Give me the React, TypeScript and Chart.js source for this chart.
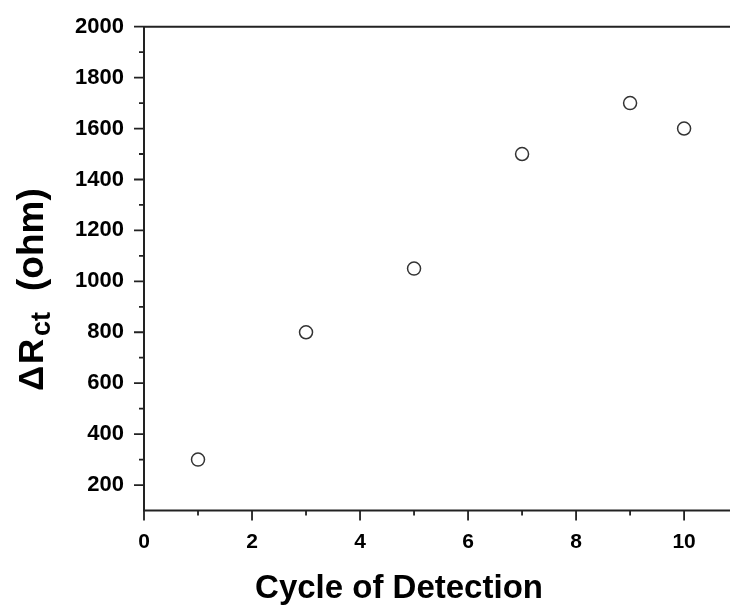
import React, { useEffect, useRef } from "react";
import { Chart, registerables } from "chart.js";

Chart.register(...registerables);

const cycles = [1, 3, 5, 7, 9, 10];
const deltaRct = [300, 800, 1050, 1500, 1700, 1600];
const xMajorTicks = [0, 2, 4, 6, 8, 10];
const yMajorTicks = [200, 400, 600, 800, 1000, 1200, 1400, 1600, 1800, 2000];

const FONT = '"Liberation Sans", Arial, sans-serif';
const AXIS_COLOR = "#222";

const framePlugin = {
  id: "frame",
  afterDraw(chart: any) {
    const { ctx, chartArea, scales } = chart;
    const xs = scales.x;
    const ys = scales.y;
    ctx.save();
    ctx.strokeStyle = AXIS_COLOR;
    ctx.lineWidth = 2;
    ctx.beginPath();
    ctx.moveTo(chartArea.left, chartArea.top);
    ctx.lineTo(chartArea.right, chartArea.top);
    ctx.moveTo(chartArea.left, chartArea.top);
    ctx.lineTo(chartArea.left, chartArea.bottom);
    ctx.lineTo(chartArea.right, chartArea.bottom);
    ctx.stroke();
    ctx.lineWidth = 1.8;
    ctx.beginPath();
    xs.ticks.forEach((t: any) => {
      const px = xs.getPixelForValue(t.value);
      const major = xMajorTicks.includes(t.value);
      const len = major ? 10 : 5;
      ctx.moveTo(px, chartArea.bottom);
      ctx.lineTo(px, chartArea.bottom + len);
    });
    ys.ticks.forEach((t: any) => {
      if (t.value <= ys.min) return;
      const py = ys.getPixelForValue(t.value);
      const major = yMajorTicks.includes(t.value);
      const len = major ? 10 : 5;
      ctx.moveTo(chartArea.left, py);
      ctx.lineTo(chartArea.left - len, py);
    });
    ctx.stroke();

    ctx.fillStyle = "#000";
    ctx.font = `bold 33px ${FONT}`;
    ctx.textAlign = "center";
    ctx.textBaseline = "alphabetic";
    ctx.fillText("Cycle of Detection", 399, 598);

    ctx.translate(43, 390);
    ctx.rotate(-Math.PI / 2);
    ctx.textAlign = "left";
    ctx.font = `bold 35px ${FONT}`;
    ctx.fillText("\u0394", -1, 0);
    ctx.fillText("R", 26, 0);
    ctx.font = `bold 27px ${FONT}`;
    ctx.fillText("ct", 54, 7);
    ctx.font = `bold 37px ${FONT}`;
    ctx.fillText("(ohm)", 99, 0);
    ctx.restore();
  },
};

export default function App() {
  const ref = useRef<HTMLCanvasElement | null>(null);
  useEffect(() => {
    if (!ref.current) return;
    const chart = new Chart(ref.current, {
      type: "scatter",
      data: {
        datasets: [
          {
            data: cycles.map((c, i) => ({ x: c, y: deltaRct[i] })),
            pointRadius: 6.5,
            pointHoverRadius: 6.5,
            pointBorderWidth: 1.5,
            borderColor: "#333",
            backgroundColor: "#fff",
            pointStyle: "circle",
          },
        ],
      },
      options: {
        responsive: false,
        animation: false,
        events: [],
        layout: { autoPadding: false, padding: { top: 26.7, right: 0, left: 0, bottom: 0 } },
        plugins: {
          legend: { display: false },
          tooltip: { enabled: false },
          title: { display: false },
        },
        scales: {
          x: {
            type: "linear",
            min: 0,
            max: 10.85,
            grid: { display: false },
            border: { display: false },
            afterFit: (s: any) => {
              s.height = 100.5;
              s.paddingLeft = 0;
              s.paddingRight = 0;
            },
            ticks: {
              stepSize: 1,
              includeBounds: false,
              autoSkip: false,
              maxRotation: 0,
              padding: 11,
              color: "#000",
              font: { family: FONT, size: 21, weight: "bold" },
              callback: (v: any) => (xMajorTicks.includes(v) ? String(v) : ""),
            },
          },
          y: {
            type: "linear",
            min: 100,
            max: 2000,
            grid: { display: false },
            border: { display: false },
            afterFit: (s: any) => {
              s.width = 144;
              s.paddingTop = 0;
              s.paddingBottom = 0;
            },
            ticks: {
              stepSize: 100,
              autoSkip: false,
              padding: 12,
              color: "#000",
              font: { family: FONT, size: 22, weight: "bold" },
              callback: (v: any) => (yMajorTicks.includes(v) ? String(v) : ""),
            },
          },
        },
      },
      plugins: [framePlugin],
    });
    return () => chart.destroy();
  }, []);
  return (
    <div style={{ position: "fixed", left: 0, top: 0, width: 730, height: 611, background: "#fff" }}>
      <canvas ref={ref} width={730} height={611} style={{ display: "block" }} />
    </div>
  );
}
